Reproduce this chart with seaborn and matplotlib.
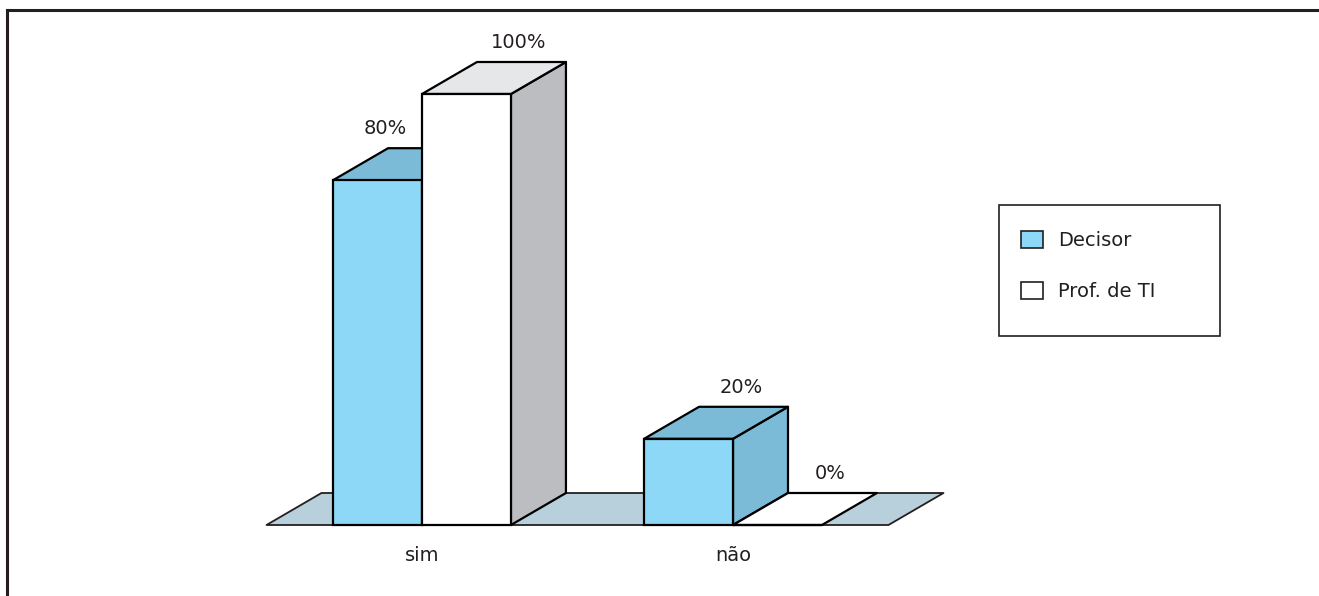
import matplotlib
matplotlib.use("Agg")
import matplotlib.pyplot as plt
from matplotlib.patches import Polygon, Rectangle, Patch
from matplotlib.lines import Line2D
import pandas as pd
import seaborn as sns

# Data
categories = ["sim", "não"]
series = ["Decisor", "Prof. de TI"]
decisor = [80, 20]
prof_ti = [100, 0]

# Face colours per series (front / top / side)
front_colors = {"Decisor": "#8dd8f6", "Prof. de TI": "#ffffff"}
top_colors = {"Decisor": "#7bbbd8", "Prof. de TI": "#e6e7e9"}
side_colors = {"Decisor": "#7bbbd8", "Prof. de TI": "#bbbdc0"}
floor_color = "#b8d0dc"
ink = "#231f20"

df = pd.DataFrame({
    "categoria": categories * len(series),
    "grupo": [s for s in series for _ in categories],
    "valor": decisor + prof_ti,
})

W, H = 1319, 596
plt.rcParams["font.family"] = ["DejaVu Sans"]
fig = plt.figure(figsize=(W / 100, H / 100), dpi=100)
ax = fig.add_axes([0, 0, 1, 1])

sns.barplot(
    data=df, x="categoria", y="valor", hue="grupo",
    order=categories, hue_order=series, palette=front_colors,
    width=0.572, saturation=1, edgecolor="black", linewidth=1.6,
    legend=False, ax=ax,
)
bars = sorted(list(ax.patches), key=lambda p: p.get_x())

# Scale: one category step = 311 px, one percent = 4.31 px
XU, YU = 311.0, 4.31
X0, Y0 = 422.0, 71.0
ax.set_xlim(-X0 / XU, (W - X0) / XU)
ax.set_ylim(-Y0 / YU, (H - Y0) / YU)
ax.axis("off")

# Oblique depth offset
DX, DY = 55.0 / XU, 32.0 / YU

# Floor
n = len(categories)
floor = Polygon(
    [(-0.5, 0), (n - 0.5, 0), (n - 0.5 + DX, DY), (-0.5 + DX, DY)],
    closed=True, facecolor=floor_color, edgecolor=ink, linewidth=1.3,
    joinstyle="round", zorder=1,
)
ax.add_patch(floor)

info = []
for b in bars:
    x0, w, h = b.get_x(), b.get_width(), b.get_height()
    c = x0 + w / 2
    cat = int(round(c))
    grp = series[0] if c < cat else series[1]
    info.append((b, x0, w, h, c, cat, grp))

fs = 14
for i, (b, x0, w, h, c, cat, grp) in enumerate(info):
    base = 2 + 3 * i
    x1 = x0 + w
    if h > 0:
        side = Polygon([(x1, 0), (x1 + DX, DY), (x1 + DX, h + DY), (x1, h)],
                       closed=True, facecolor=side_colors[grp],
                       edgecolor="black", linewidth=1.6, joinstyle="round",
                       zorder=base)
        ax.add_patch(side)
    top = Polygon([(x0, h), (x1, h), (x1 + DX, h + DY), (x0 + DX, h + DY)],
                  closed=True, facecolor=top_colors[grp] if h > 0 else "white",
                  edgecolor="black", linewidth=1.6, joinstyle="round",
                  zorder=base + 1)
    ax.add_patch(top)
    b.set_zorder(base + 2)

    # Value label above the top face
    nxt = info[i + 1] if i + 1 < len(info) else None
    if nxt is not None and nxt[5] == cat and nxt[3] > h:
        lx = c + 0.024
    else:
        lx = c + 0.95 * DX
    ax.text(lx, h + 12, f"{h:.0f}%", ha="center", va="center",
            fontsize=fs, color=ink, zorder=50)

# Category labels under the floor
for i, cat in enumerate(categories):
    ax.text(i, -7.0, cat, ha="center", va="center", fontsize=fs, color=ink)

# Legend box
fig.add_artist(Rectangle((999 / W, (H - 336) / H), 221 / W, 131 / H,
                         transform=fig.transFigure, facecolor="white",
                         edgecolor=ink, linewidth=1.2))
handles = [Patch(facecolor=front_colors[s], edgecolor=ink, linewidth=1.2)
           for s in series]
px = fs * 100 / 72
leg = fig.legend(handles, series, loc="center left",
                 bbox_to_anchor=(1011 / W, (H - 266) / H),
                 frameon=False, fontsize=fs, borderpad=0,
                 handlelength=22 / px, handleheight=19 / px,
                 handletextpad=15 / px, labelspacing=1.62)
for t in leg.get_texts():
    t.set_color(ink)

# Outer frame: top and left rules
fig.add_artist(Line2D([7 / W, 1], [1 - 10 / H, 1 - 10 / H],
                      transform=fig.transFigure, color=ink, linewidth=2.2))
fig.add_artist(Line2D([7 / W, 7 / W], [0, 1 - 10 / H],
                      transform=fig.transFigure, color=ink, linewidth=2.2))

fig.savefig("out.png", dpi=100, facecolor="white")
